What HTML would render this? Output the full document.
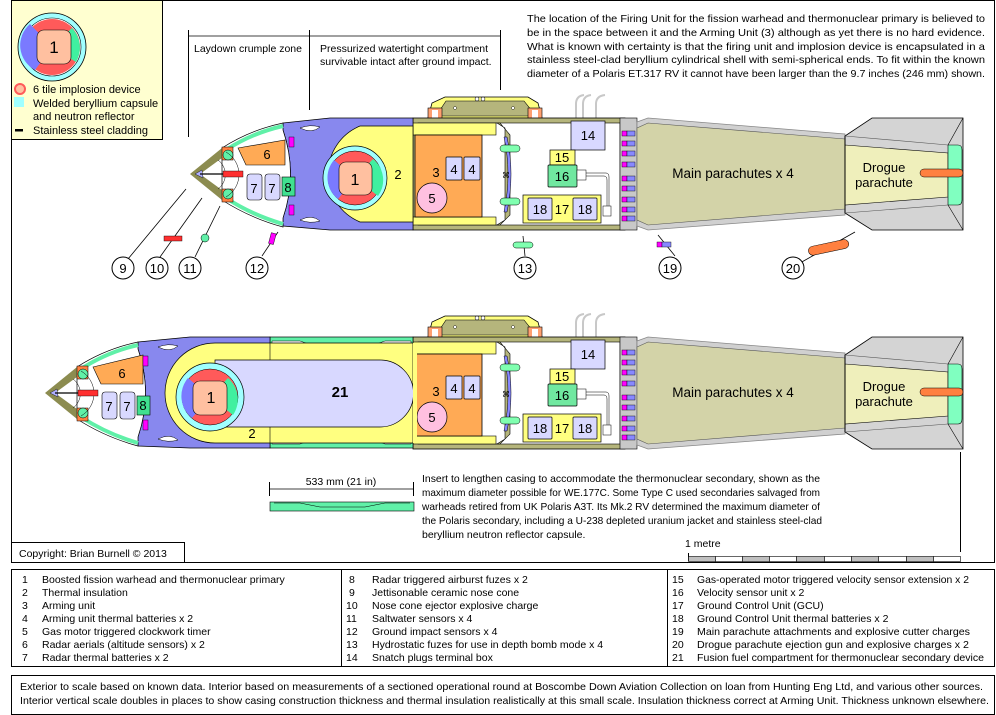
<!DOCTYPE html>
<html><head><meta charset="utf-8"><style>
html,body{margin:0;padding:0;background:#fff;}
svg{display:block;font-family:"Liberation Sans",sans-serif;}
</style></head><body>
<svg width="996" height="715" viewBox="0 0 996 715" xmlns="http://www.w3.org/2000/svg">
<defs>
<g id="rear">
  <path d="M428,118 L432,103 L445,97 L528,97 L538,103 L542,118 Z" fill="#ffff80" stroke="#000" stroke-width="0.8"/>
  <path d="M436,116 L446,101 L524,101 L536,116 Z" fill="#b5b57c" stroke="#000" stroke-width="0.6"/>
  <rect x="428" y="108" width="14" height="12" fill="#ffa070" stroke="#000" stroke-width="0.6"/>
  <rect x="528" y="108" width="14" height="12" fill="#ffa070" stroke="#000" stroke-width="0.6"/>
  <rect x="432" y="110" width="6" height="10" fill="#fff"/><rect x="532" y="110" width="6" height="10" fill="#fff"/>
  <circle cx="477" cy="99" r="2" fill="#fff" stroke="#000" stroke-width="0.5"/><circle cx="483" cy="99" r="2" fill="#fff" stroke="#000" stroke-width="0.5"/>
  <circle cx="455" cy="108" r="1.5" fill="#fff" stroke="#000" stroke-width="0.4"/><circle cx="513" cy="108" r="1.5" fill="#fff" stroke="#000" stroke-width="0.4"/>
  <path d="M576,118 V104 Q576,96 584,95 M583,118 V104 Q583,96 591,95 M596,118 V104 Q596,96 605,95" fill="none" stroke="#c8c8c8" stroke-width="2"/>
  <rect x="413" y="118" width="212" height="112" fill="#b5b57c" stroke="#000" stroke-width="0.8"/>
  <rect x="418" y="123" width="202" height="102" fill="#fff" stroke="#000" stroke-width="0.6"/>
  <rect x="413" y="123" width="83" height="12" fill="#ffff80" stroke="#000" stroke-width="0.6"/>
  <rect x="413" y="217" width="83" height="8" fill="#ffff80" stroke="#000" stroke-width="0.6"/>
  <rect x="415" y="135" width="67" height="82" fill="#ffaa55" stroke="#000" stroke-width="0.8"/>
  <rect x="446" y="157" width="16" height="23" fill="#d8d8ff" stroke="#000" stroke-width="0.7" rx="1"/>
  <rect x="464" y="157" width="16" height="23" fill="#d8d8ff" stroke="#000" stroke-width="0.7" rx="1"/>
  <circle cx="432" cy="198" r="15" fill="#ffc0e0" stroke="#000" stroke-width="0.7"/>
  <path d="M497,123 L505,128 L505,220 L497,225 L500,225 L510,215 L510,135 L500,123 Z" fill="#b5b57c" stroke="#000" stroke-width="0.6"/>
  <path d="M504,137 Q512,174 504,212 L507,212 Q515,174 507,137 Z" fill="#8888ff" stroke="#000" stroke-width="0.5"/>
  <rect x="500" y="145" width="20" height="7" rx="3.5" fill="#80ffb0" stroke="#000" stroke-width="0.5"/>
  <rect x="500" y="198" width="20" height="7" rx="3.5" fill="#80ffb0" stroke="#000" stroke-width="0.5"/>
  <text x="502" y="178" font-size="8">⌘</text>
  <rect x="571" y="121" width="34" height="29" fill="#d8d8ff" stroke="#000" stroke-width="0.7"/>
  <rect x="550" y="150" width="25" height="15" fill="#ffff80" stroke="#000" stroke-width="0.7"/>
  <rect x="548" y="165" width="29" height="22" fill="#70e8a0" stroke="#000" stroke-width="0.7" rx="1"/>
  <rect x="577" y="170" width="9" height="10" fill="#fff" stroke="#000" stroke-width="0.5"/>
  <path d="M586,173 H606 Q609,173 609,177 V206 M586,176 H604 Q607,176 607,180 V206" fill="none" stroke="#000" stroke-width="0.5"/>
  <rect x="603" y="206" width="8" height="10" fill="#fff" stroke="#000" stroke-width="0.5"/>
  <rect x="523" y="195" width="78" height="28" fill="#ffff80" stroke="#000" stroke-width="0.7"/>
  <rect x="528" y="198" width="24" height="22" fill="#d8d8ff" stroke="#000" stroke-width="0.7" rx="1"/>
  <rect x="573" y="198" width="24" height="22" fill="#d8d8ff" stroke="#000" stroke-width="0.7" rx="1"/>
  <rect x="620" y="118" width="17" height="112" fill="#c8c8c8" stroke="#000" stroke-width="0.6"/>
  <g stroke="#000" stroke-width="0.4">
    <rect x="622" y="131" width="5" height="5" fill="#ff00ff"/><rect x="627" y="131" width="8" height="5" fill="#8888ff"/>
    <rect x="622" y="141" width="5" height="5" fill="#ff00ff"/><rect x="627" y="141" width="8" height="5" fill="#8888ff"/>
    <rect x="622" y="151" width="5" height="5" fill="#ff00ff"/><rect x="627" y="151" width="8" height="5" fill="#8888ff"/>
    <rect x="622" y="162" width="5" height="5" fill="#ff00ff"/><rect x="627" y="162" width="8" height="5" fill="#8888ff"/>
    <rect x="622" y="176" width="5" height="5" fill="#ff00ff"/><rect x="627" y="176" width="8" height="5" fill="#8888ff"/>
    <rect x="622" y="186" width="5" height="5" fill="#ff00ff"/><rect x="627" y="186" width="8" height="5" fill="#8888ff"/>
    <rect x="622" y="197" width="5" height="5" fill="#ff00ff"/><rect x="627" y="197" width="8" height="5" fill="#8888ff"/>
    <rect x="622" y="207" width="5" height="5" fill="#ff00ff"/><rect x="627" y="207" width="8" height="5" fill="#8888ff"/>
    <rect x="622" y="216" width="5" height="5" fill="#ff00ff"/><rect x="627" y="216" width="8" height="5" fill="#8888ff"/>
  </g>
  <path d="M637,122 L648,118 L845,134 L845,215 L648,230 L637,226 Z" fill="#d0d0d0" stroke="#888" stroke-width="0.8"/>
  <path d="M637,128 L648,123 L845,139 L845,209 L648,225 L637,220 Z" fill="#d3d3a8" stroke="#555" stroke-width="0.6"/>
  <path d="M845,136 L872,118 L963,118 L963,230 L872,230 L845,213 Z" fill="#d4d4d4" stroke="#000" stroke-width="0.8"/>
  <path d="M845,145 L948,153 L948,197 L845,205 Z" fill="#efefbb" stroke="#000" stroke-width="0.6"/>
  <line x1="845" y1="136" x2="845" y2="213" stroke="#000"/>
  <line x1="948" y1="145" x2="963" y2="118" stroke="#000" stroke-width="0.6"/>
  <line x1="948" y1="205" x2="963" y2="230" stroke="#000" stroke-width="0.6"/>
  <line x1="845" y1="136" x2="948" y2="145" stroke="#555" stroke-width="0.6"/>
  <line x1="845" y1="213" x2="948" y2="205" stroke="#555" stroke-width="0.6"/>
  <path d="M948,145 H958 Q962,145 962,150 V200 Q962,205 958,205 H948 Z" fill="#80ffc0" stroke="#000" stroke-width="0.6"/>
  <rect x="920" y="169" width="43" height="8" rx="4" fill="#ff8040" stroke="#000" stroke-width="0.5"/>
</g>
</defs>

<line x1="11" y1="0.5" x2="995" y2="0.5" stroke="#000"/>
<line x1="11.5" y1="0" x2="11.5" y2="563" stroke="#000"/>
<line x1="11" y1="562.5" x2="995" y2="562.5" stroke="#000"/>
<line x1="994.5" y1="0" x2="994.5" y2="563" stroke="#000"/>

<rect x="11.5" y="0.5" width="151" height="139" fill="#ffffd0" stroke="#000"/>
<circle cx="52" cy="47" r="34" fill="#a0ffff" stroke="#000" stroke-width="0.8"/>
<circle cx="52" cy="47" r="29" fill="#fff" stroke="#000" stroke-width="0.6"/>
<circle cx="52" cy="47" r="28" fill="#ff5a5a"/>
<path d="M52,47 L30,24 A28,28 0 0 0 35,70 Z" fill="#7a7aff"/>
<path d="M52,47 L72,28 A28,28 0 0 1 76,62 Z" fill="#40f0a0"/>
<rect x="37" y="30" width="34" height="34" rx="7" fill="#ffc0a0" stroke="#000" stroke-width="0.6"/>
<text x="54" y="53" font-size="17" text-anchor="middle">1</text>
<circle cx="20" cy="89" r="5" fill="#ffc0a0" stroke="#ff5a5a" stroke-width="2"/>
<text x="33" y="93" font-size="11">6 tile implosion device</text>
<rect x="14" y="97" width="10" height="10" fill="#a0ffff"/>
<text x="33" y="107" font-size="11">Welded beryllium capsule</text>
<text x="33" y="120" font-size="11">and neutron reflector</text>
<rect x="15" y="129" width="8" height="2.5" fill="#000"/>
<text x="33" y="134" font-size="11">Stainless steel cladding</text>

<line x1="188.5" y1="30" x2="188.5" y2="137" stroke="#000"/>
<line x1="309.5" y1="30" x2="309.5" y2="110" stroke="#000"/>
<line x1="500.5" y1="30" x2="500.5" y2="90" stroke="#000"/>
<line x1="188" y1="36" x2="500" y2="36" stroke="#000" stroke-width="0.8"/>
<text x="194" y="52" font-size="10.5">Laydown crumple zone</text>
<text x="320" y="52" font-size="10.5">Pressurized watertight compartment</text>
<text x="320" y="65" font-size="10.5">survivable intact after ground impact.</text>

<g font-size="10.5">
<text x="527" y="22" textLength="458" lengthAdjust="spacingAndGlyphs">The location of the Firing Unit for the fission warhead and thermonuclear primary is believed to</text>
<text x="527" y="36" textLength="458" lengthAdjust="spacingAndGlyphs">be in the space between it and the Arming Unit (3) although as yet there is no hard evidence.</text>
<text x="527" y="50" textLength="458" lengthAdjust="spacingAndGlyphs">What is known with certainty is that the firing unit and implosion device is encapsulated in a</text>
<text x="527" y="63" textLength="458" lengthAdjust="spacingAndGlyphs">stainless steel-clad beryllium cylindrical shell with semi-spherical ends. To fit within the known</text>
<text x="527" y="77" textLength="458" lengthAdjust="spacingAndGlyphs">diameter of a Polaris ET.317 RV it cannot have been larger than the 9.7 inches (246 mm) shown.</text>
</g>

<use href="#rear"/>
<g font-size="13" text-anchor="middle">
<text x="436" y="177">3</text><text x="454" y="174">4</text><text x="472" y="174">4</text><text x="432" y="203">5</text>
<text x="588" y="140">14</text><text x="562" y="162">15</text><text x="562" y="181">16</text>
<text x="540" y="214">18</text><text x="562" y="214">17</text><text x="585" y="214">18</text>
<text x="733" y="178" font-size="13.5">Main parachutes x 4</text>
<text x="884" y="172">Drogue</text><text x="884" y="187">parachute</text>
</g>
<!-- blue section upper (drawn first) -->
<path d="M283,123 L330,118 L413,118 L413,230 L330,230 L283,226 L283,218 Q298,174 283,130 Z" fill="#8888ee" stroke="#000" stroke-width="0.7"/>
<path d="M300,128 Q310,124 320,127 Q312,134 300,128 Z M300,220 Q310,224 320,221 Q312,214 300,220 Z" fill="#fff" stroke="#000" stroke-width="0.5"/>
<path d="M222,148 Q250,130 283,123 L283,130 Q298,174 283,218 L283,227 Q250,218 222,200 Z" fill="#fff" stroke="#000" stroke-width="0.7"/>
<path d="M226,150 Q252,133 283,126" fill="none" stroke="#60f0a8" stroke-width="4"/>
<path d="M226,198 Q252,215 283,224" fill="none" stroke="#60f0a8" stroke-width="4"/>
<path d="M190,174 L222,148 L226,155 L200,174 L226,193 L222,200 Z" fill="#8c8c50"/>
<rect x="222" y="147" width="11" height="13" fill="#ff8040" stroke="#000" stroke-width="0.5"/>
<rect x="222" y="189" width="11" height="13" fill="#ff8040" stroke="#000" stroke-width="0.5"/>
<circle cx="228" cy="155" r="5" fill="#60f0a8" stroke="#000" stroke-width="0.5"/>
<circle cx="228" cy="194" r="5" fill="#60f0a8" stroke="#000" stroke-width="0.5"/>
<path d="M218,160 A18,18 0 0 1 218,189 M226,152 A26,26 0 0 1 226,197" fill="none" stroke="#000" stroke-width="0.5"/>
<polygon points="195,174 202,170 203,178" fill="#b0b0ff" stroke="#000" stroke-width="0.4"/>
<line x1="200" y1="174" x2="223" y2="174" stroke="#000" stroke-width="1.2"/>
<rect x="223" y="171" width="20" height="6" fill="#ff3030" stroke="#000" stroke-width="0.4"/>
<path d="M238,148 L285,140 L285,165 L246,165 Z" fill="#ffaa55" stroke="#000" stroke-width="0.6"/>
<text x="267" y="159" font-size="13" text-anchor="middle">6</text>
<rect x="247" y="174" width="15" height="26" rx="3" fill="#d8d8ff" stroke="#000" stroke-width="0.6"/>
<rect x="265" y="174" width="15" height="26" rx="3" fill="#d8d8ff" stroke="#000" stroke-width="0.6"/>
<rect x="282" y="177" width="13" height="19" fill="#40e090" stroke="#000" stroke-width="0.6"/>
<text x="254" y="193" font-size="13" text-anchor="middle">7</text><text x="272" y="193" font-size="13" text-anchor="middle">7</text><text x="288" y="192" font-size="13" text-anchor="middle">8</text>
<rect x="289" y="137" width="5" height="10" fill="#ff00ff" stroke="#000" stroke-width="0.4"/>
<rect x="289" y="205" width="5" height="10" fill="#ff00ff" stroke="#000" stroke-width="0.4"/>
<path d="M413,126 L360,126 A52,52 0 0 0 360,222 L413,222 Z" fill="#ffff80" stroke="#000" stroke-width="0.7"/>
<circle cx="355" cy="178" r="32" fill="#a0ffff" stroke="#000" stroke-width="0.7"/>
<circle cx="355" cy="178" r="27" fill="#ff5a5a" stroke="#000" stroke-width="0.5"/>
<path d="M355,178 L334,160 A27,27 0 0 0 338,199 Z" fill="#7a7aff"/>
<path d="M355,178 L373,159 A27,27 0 0 1 378,196 Z" fill="#40f0a0"/>
<rect x="339" y="162" width="33" height="33" rx="7" fill="#ffc0a0" stroke="#000" stroke-width="0.6"/>
<text x="355" y="185" font-size="16" text-anchor="middle">1</text>
<text x="398" y="179" font-size="13" text-anchor="middle">2</text>

<g stroke="#000" stroke-width="0.8" fill="none">
<line x1="128" y1="259" x2="186" y2="189"/><line x1="160" y1="257" x2="202" y2="198"/><line x1="195" y1="257" x2="220" y2="206"/>
<line x1="262" y1="256" x2="278" y2="232"/><line x1="525" y1="256" x2="523" y2="236"/><line x1="675" y1="256" x2="658" y2="235"/><line x1="800" y1="263" x2="855" y2="232"/>
</g>
<rect x="164" y="236" width="18" height="5" fill="#ff3030" stroke="#000" stroke-width="0.4"/>
<circle cx="205" cy="238" r="4" fill="#60f0a8" stroke="#000" stroke-width="0.5"/>
<rect x="270" y="233" width="5" height="11" fill="#ff00ff" stroke="#000" stroke-width="0.4" transform="rotate(15 272 238)"/>
<rect x="513" y="242" width="20" height="6" rx="3" fill="#80ffb0" stroke="#000" stroke-width="0.5"/>
<rect x="657" y="242" width="5" height="5" fill="#ff00ff" stroke="#000" stroke-width="0.4"/><rect x="662" y="242" width="9" height="5" fill="#8888ff" stroke="#000" stroke-width="0.4"/>
<rect x="808" y="243" width="41" height="9" rx="4.5" fill="#ff8040" stroke="#000" stroke-width="0.5" transform="rotate(-12 828 247)"/>
<g font-size="13" text-anchor="middle">
<circle cx="123" cy="268" r="11" fill="#fff" stroke="#000"/><text x="123" y="273">9</text>
<circle cx="157" cy="268" r="11" fill="#fff" stroke="#000"/><text x="157" y="273">10</text>
<circle cx="190" cy="268" r="11" fill="#fff" stroke="#000"/><text x="190" y="273">11</text>
<circle cx="257" cy="268" r="11" fill="#fff" stroke="#000"/><text x="257" y="273">12</text>
<circle cx="525" cy="268" r="11" fill="#fff" stroke="#000"/><text x="525" y="273">13</text>
<circle cx="670" cy="268" r="11" fill="#fff" stroke="#000"/><text x="670" y="273">19</text>
<circle cx="793" cy="268" r="11" fill="#fff" stroke="#000"/><text x="793" y="273">20</text>
</g>

<use href="#rear" transform="translate(0,219)"/>
<g font-size="13" text-anchor="middle">
<text x="436" y="396">3</text><text x="454" y="393">4</text><text x="472" y="393">4</text><text x="432" y="422">5</text>
<text x="588" y="359">14</text><text x="562" y="381">15</text><text x="562" y="400">16</text>
<text x="540" y="433">18</text><text x="562" y="433">17</text><text x="585" y="433">18</text>
<text x="733" y="397" font-size="13.5">Main parachutes x 4</text>
<text x="884" y="391">Drogue</text><text x="884" y="406">parachute</text>
</g>
<rect x="270" y="337" width="143" height="111" fill="#60f0a8" stroke="#000" stroke-width="0.7"/>
<path d="M272,341 L300,341 L320,348 L365,348 L385,341 L411,341 L411,444 L385,444 L365,437 L320,437 L300,444 L272,444 Z" fill="#fff" stroke="#000" stroke-width="0.5"/>
<!-- lower blue first -->
<path d="M138,342 L190,337 L270,337 L270,448 L190,448 L138,446 L138,437 Q153,393 138,349 Z" fill="#8888ee" stroke="#000" stroke-width="0.7"/>
<path d="M158,347 Q168,343 178,346 Q170,353 158,347 Z M158,439 Q168,443 178,440 Q170,433 158,439 Z" fill="#fff" stroke="#000" stroke-width="0.5"/>
<path d="M77,367 Q105,349 138,342 L138,349 Q153,393 138,437 L138,446 Q105,437 77,419 Z" fill="#fff" stroke="#000" stroke-width="0.7"/>
<path d="M81,369 Q107,352 138,345" fill="none" stroke="#60f0a8" stroke-width="4"/>
<path d="M81,417 Q107,434 138,443" fill="none" stroke="#60f0a8" stroke-width="4"/>
<path d="M45,393 L77,367 L81,374 L55,393 L81,412 L77,419 Z" fill="#8c8c50"/>
<rect x="77" y="366" width="11" height="13" fill="#ff8040" stroke="#000" stroke-width="0.5"/>
<rect x="77" y="408" width="11" height="13" fill="#ff8040" stroke="#000" stroke-width="0.5"/>
<circle cx="83" cy="374" r="5" fill="#60f0a8" stroke="#000" stroke-width="0.5"/>
<circle cx="83" cy="413" r="5" fill="#60f0a8" stroke="#000" stroke-width="0.5"/>
<path d="M73,379 A18,18 0 0 1 73,408 M81,371 A26,26 0 0 1 81,416" fill="none" stroke="#000" stroke-width="0.5"/>
<polygon points="50,393 57,389 58,397" fill="#b0b0ff" stroke="#000" stroke-width="0.4"/>
<line x1="55" y1="393" x2="78" y2="393" stroke="#000" stroke-width="1.2"/>
<rect x="78" y="390" width="20" height="6" fill="#ff3030" stroke="#000" stroke-width="0.4"/>
<path d="M93,367 L143,355 L143,384 L101,384 Z" fill="#ffaa55" stroke="#000" stroke-width="0.6"/>
<text x="122" y="378" font-size="13" text-anchor="middle">6</text>
<rect x="102" y="392" width="15" height="27" rx="3" fill="#d8d8ff" stroke="#000" stroke-width="0.6"/>
<rect x="120" y="392" width="15" height="27" rx="3" fill="#d8d8ff" stroke="#000" stroke-width="0.6"/>
<rect x="137" y="396" width="13" height="19" fill="#40e090" stroke="#000" stroke-width="0.6"/>
<text x="109" y="411" font-size="13" text-anchor="middle">7</text><text x="127" y="411" font-size="13" text-anchor="middle">7</text><text x="143" y="410" font-size="13" text-anchor="middle">8</text>
<rect x="143" y="356" width="5" height="10" fill="#ff00ff" stroke="#000" stroke-width="0.4"/>
<rect x="143" y="420" width="5" height="10" fill="#ff00ff" stroke="#000" stroke-width="0.4"/>
<path d="M413,343 L215,343 A50,50 0 0 0 215,443 L413,443 Z" fill="#ffff80" stroke="#000" stroke-width="0.7"/>
<line x1="270" y1="343" x2="270" y2="443" stroke="#000" stroke-width="0.6"/>
<path d="M380,360 A33.5,33.5 0 0 1 380,427 L215,427 L215,360 Z" fill="#d8d8ff" stroke="#000" stroke-width="0.7"/>
<rect x="413" y="343" width="4" height="100" fill="#ffff80"/>
<circle cx="210" cy="397" r="34" fill="#a0ffff" stroke="#000" stroke-width="0.7"/>
<circle cx="210" cy="397" r="28" fill="#ff5a5a" stroke="#000" stroke-width="0.5"/>
<path d="M210,397 L188,378 A28,28 0 0 0 192,418 Z" fill="#7a7aff"/>
<path d="M210,397 L228,378 A28,28 0 0 1 233,415 Z" fill="#40f0a0"/>
<rect x="193" y="381" width="34" height="34" rx="7" fill="#ffc0a0" stroke="#000" stroke-width="0.6"/>
<text x="211" y="403" font-size="16" text-anchor="middle">1</text>
<text x="340" y="397" font-size="15" font-weight="bold" text-anchor="middle">21</text>
<text x="252" y="438" font-size="13" text-anchor="middle">2</text>

<text x="341" y="485" font-size="10.5" text-anchor="middle">533 mm (21 in)</text>
<line x1="269.5" y1="482" x2="269.5" y2="496" stroke="#000"/>
<line x1="413.5" y1="482" x2="413.5" y2="496" stroke="#000"/>
<line x1="270" y1="489" x2="413" y2="489" stroke="#000" stroke-width="0.8"/>
<rect x="270" y="502" width="144" height="9" fill="#60f0a8" stroke="#000" stroke-width="0.6"/>
<path d="M274,503 L300,503 L320,507 L365,507 L385,503 L410,503" fill="none" stroke="#000" stroke-width="0.5"/>
<g font-size="10.5">
<text x="422" y="482" textLength="398" lengthAdjust="spacingAndGlyphs">Insert to lengthen casing to accommodate the thermonuclear secondary, shown as the</text>
<text x="422" y="496" textLength="398" lengthAdjust="spacingAndGlyphs">maximum diameter possible for WE.177C. Some Type C used secondaries salvaged from</text>
<text x="422" y="510" textLength="398" lengthAdjust="spacingAndGlyphs">warheads retired from UK Polaris A3T.  Its Mk.2 RV determined the maximum diameter of</text>
<text x="422" y="524" textLength="400" lengthAdjust="spacingAndGlyphs">the Polaris secondary, including a U-238 depleted uranium jacket and stainless steel-clad</text>
<text x="422" y="538">beryllium neutron reflector capsule.</text>
</g>

<line x1="960.5" y1="452" x2="960.5" y2="552" stroke="#000"/>
<text x="685" y="547" font-size="10.5">1 metre</text>
<line x1="688.5" y1="553" x2="688.5" y2="561" stroke="#000"/>
<g stroke="#000" stroke-width="0.6">
<rect x="688.5" y="556.5" width="27" height="5" fill="#c0c0c0"/><rect x="715.5" y="556.5" width="27" height="5" fill="#fff"/>
<rect x="742.5" y="556.5" width="27" height="5" fill="#c0c0c0"/><rect x="769.5" y="556.5" width="27" height="5" fill="#fff"/>
<rect x="796.5" y="556.5" width="28" height="5" fill="#c0c0c0"/><rect x="824.5" y="556.5" width="27" height="5" fill="#fff"/>
<rect x="851.5" y="556.5" width="27" height="5" fill="#c0c0c0"/><rect x="878.5" y="556.5" width="28" height="5" fill="#fff"/>
<rect x="906.5" y="556.5" width="27" height="5" fill="#c0c0c0"/><rect x="933.5" y="556.5" width="27" height="5" fill="#fff"/>
</g>

<rect x="11.5" y="542.5" width="173" height="20" fill="#fff" stroke="#000"/>
<text x="19" y="557" font-size="10.5">Copyright: Brian Burnell © 2013</text>

<rect x="11.5" y="569.5" width="983" height="97" fill="#fff" stroke="#000"/>
<line x1="341.5" y1="569" x2="341.5" y2="667" stroke="#000"/>
<line x1="667.5" y1="569" x2="667.5" y2="667" stroke="#000"/>
<g font-size="10.5">
<text x="22" y="583">1</text><text x="42" y="583">Boosted fission warhead and thermonuclear primary</text>
<text x="22" y="596">2</text><text x="42" y="596">Thermal insulation</text>
<text x="22" y="609">3</text><text x="42" y="609">Arming unit</text>
<text x="22" y="622">4</text><text x="42" y="622">Arming unit thermal batteries x 2</text>
<text x="22" y="635">5</text><text x="42" y="635">Gas motor triggered clockwork timer</text>
<text x="22" y="648">6</text><text x="42" y="648">Radar aerials (altitude sensors) x 2</text>
<text x="22" y="661">7</text><text x="42" y="661">Radar thermal batteries x 2</text>
<text x="349" y="583">8</text><text x="372" y="583">Radar triggered airburst fuzes x 2</text>
<text x="349" y="596">9</text><text x="372" y="596">Jettisonable ceramic nose cone</text>
<text x="346" y="609">10</text><text x="372" y="609">Nose cone ejector explosive charge</text>
<text x="346" y="622">11</text><text x="372" y="622">Saltwater sensors x 4</text>
<text x="346" y="635">12</text><text x="372" y="635">Ground impact sensors x 4</text>
<text x="346" y="648">13</text><text x="372" y="648">Hydrostatic fuzes for use in depth bomb mode x 4</text>
<text x="346" y="661">14</text><text x="372" y="661">Snatch plugs terminal box</text>
<text x="672" y="583">15</text><text x="697" y="583" textLength="272" lengthAdjust="spacingAndGlyphs">Gas-operated motor triggered velocity sensor extension x 2</text>
<text x="672" y="596">16</text><text x="697" y="596">Velocity sensor unit x 2</text>
<text x="672" y="609">17</text><text x="697" y="609">Ground Control Unit (GCU)</text>
<text x="672" y="622">18</text><text x="697" y="622">Ground Control Unit thermal batteries x 2</text>
<text x="672" y="635">19</text><text x="697" y="635" textLength="273" lengthAdjust="spacingAndGlyphs">Main parachute attachments and explosive cutter charges</text>
<text x="672" y="648">20</text><text x="697" y="648" textLength="272" lengthAdjust="spacingAndGlyphs">Drogue parachute ejection gun and explosive charges x 2</text>
<text x="672" y="661">21</text><text x="697" y="661" textLength="287" lengthAdjust="spacingAndGlyphs">Fusion fuel compartment for thermonuclear secondary device</text>
</g>

<rect x="11.5" y="675.5" width="983" height="39" fill="#fff" stroke="#000"/>
<g font-size="10.5">
<text x="20" y="690" textLength="963" lengthAdjust="spacingAndGlyphs">Exterior to scale based on known data. Interior based on measurements of a sectioned operational round at Boscombe Down Aviation Collection on loan from Hunting Eng Ltd, and various other sources.</text>
<text x="20" y="704" textLength="969" lengthAdjust="spacingAndGlyphs">Interior vertical scale doubles in places to show casing construction thickness and thermal insulation realistically at this small scale. Insulation thickness correct at Arming Unit. Thickness unknown elsewhere.</text>
</g>
</svg>
</body></html>
